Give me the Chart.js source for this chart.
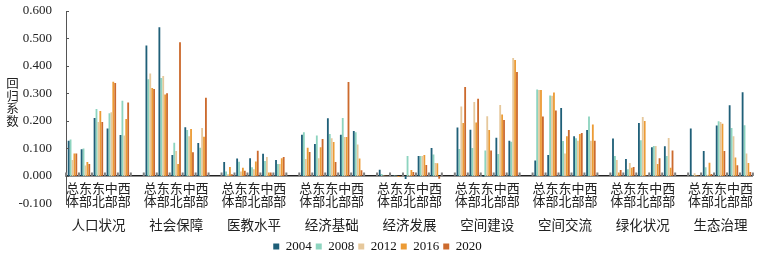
<!DOCTYPE html>
<html lang="zh">
<head>
<meta charset="utf-8">
<script src="https://cdn.jsdelivr.net/npm/chart.js@4.4.1/dist/chart.umd.min.js"></script>
<style>
  html, body { margin: 0; padding: 0; background: #fff; }
  #wrap { width: 761px; height: 258px; }
</style>
</head>
<body>
<div id="wrap"><canvas id="grafico"></canvas></div>
<script>
const grupos = ['人口状况', '社会保障', '医教水平', '经济基础', '经济发展', '空间建设', '空间交流', '绿化状况', '生态治理'];
const regiones = [['总', '体'], ['东', '部'], ['东', '北'], ['中', '部'], ['西', '部']];
const anios = ['2004', '2008', '2012', '2016', '2020'];
const colores = ['#1f5f78', '#8dd4bf', '#e6c89c', '#ec9b35', '#cc6a2d'];
const yTicks = [-0.1, 0, 0.1, 0.2, 0.3, 0.4, 0.5, 0.6];
const tituloY = '回归系数';

// orden por grupo: 总体, 东部, 东北, 中部, 西部
const v2004 = [
  0.128, 0.097, 0.211, 0.173, 0.149,
  0.475, 0.541, 0.076, 0.177, 0.120,
  0.051, 0.064, 0.065, 0.081, 0.058,
  0.150, 0.116, 0.210, 0.150, 0.164,
  0.023, 0.001, -0.011, 0.073, 0.102,
  0.176, 0.168, -0.003, 0.139, 0.128,
  0.056, 0.076, 0.247, 0.145, 0.167,
  0.136, 0.062, 0.193, 0.105, 0.108,
  0.173, 0.091, 0.184, 0.257, 0.305
];
const v2008 = [
  0.133, 0.100, 0.244, 0.228, 0.274,
  0.352, 0.356, 0.121, 0.167, 0.103,
  0.016, 0.052, 0.032, 0.055, 0.044,
  0.159, 0.147, 0.153, 0.211, 0.159,
  0.007, 0.002, 0.073, 0.073, 0.078,
  0.098, 0.102, 0.093, 0.080, 0.125,
  0.315, 0.293, 0.127, 0.137, 0.216,
  0.073, 0.025, 0.130, 0.109, 0.073,
  0.002, 0.032, 0.199, 0.175, 0.185
];
const v2012 = [
  0.058, 0.038, 0.196, 0.232, 0.147,
  0.373, 0.364, 0.091, 0.145, 0.175,
  0.006, 0.016, 0.025, 0.069, 0.044,
  0.062, 0.065, 0.137, 0.142, 0.115,
  0.002, 0.001, 0.004, 0.073, 0.047,
  0.253, 0.269, 0.217, 0.258, 0.429,
  0.313, 0.292, 0.082, 0.128, 0.128,
  0.058, 0.047, 0.215, 0.109, 0.138,
  0.010, 0.005, 0.196, 0.145, 0.082
];
const v2016 = [
  0.082, 0.051, 0.236, 0.343, 0.207,
  0.320, 0.296, 0.044, 0.171, 0.143,
  0.033, 0.030, 0.053, 0.013, 0.065,
  0.103, 0.105, 0.124, 0.142, 0.064,
  0.001, -0.004, 0.022, 0.076, 0.046,
  0.193, 0.195, 0.167, 0.224, 0.422,
  0.313, 0.304, 0.145, 0.153, 0.187,
  0.013, 0.030, 0.200, 0.044, 0.030,
  0.003, 0.048, 0.190, 0.067, 0.047
];
const v2020 = [
  0.082, 0.044, 0.196, 0.338, 0.267,
  0.316, 0.301, 0.486, 0.086, 0.285,
  0.006, 0.019, 0.092, 0.013, 0.069,
  0.087, 0.135, 0.051, 0.342, 0.021,
  0.001, -0.002, 0.015, 0.040, -0.010,
  0.324, 0.281, 0.093, 0.204, 0.378,
  0.216, 0.238, 0.167, 0.156, 0.128,
  0.022, 0.033, 0.002, 0.065, 0.093,
  0.002, 0.007, 0.091, 0.039, 0.015
];
const series = [v2004, v2008, v2012, v2016, v2020];

const fuente = "'Liberation Serif', 'Noto Sans CJK SC', serif";

// etiquetas del eje: 5 regiones por grupo + un hueco entre grupos
const etiquetas = [];
const etiquetasGrupo = [];
grupos.forEach((g, gi) => {
  regiones.forEach((r, ri) => {
    etiquetas.push(r);
    etiquetasGrupo.push(ri === 2 ? g : '');
  });
  if (gi < grupos.length - 1) {
    etiquetas.push('');
    etiquetasGrupo.push('');
  }
});

const expandir = (vals) => {
  const out = [];
  grupos.forEach((g, gi) => {
    out.push(...vals.slice(gi * 5, gi * 5 + 5));
    if (gi < grupos.length - 1) out.push(null);
  });
  return out;
};

const marcasEje = {
  id: 'marcasEje',
  afterDatasetsDraw(chart) {
    const { ctx, chartArea } = chart;
    const x = chart.scales.x;
    const y = chart.scales.y;
    const y0 = y.getPixelForValue(0);
    const paso = x.width / etiquetas.length;
    ctx.save();
    // marcas grises en cada limite de categoria
    ctx.fillStyle = '#7f7f7f';
    for (let i = 0; i <= etiquetas.length; i++) {
      const px = x.getPixelForValue(i) - paso / 2;
      ctx.fillRect(px - 1, y0 - 3.5, 2, 3.5);
    }
    // ticks hacia dentro en el eje Y
    ctx.strokeStyle = '#555';
    ctx.lineWidth = 1;
    yTicks.forEach((v) => {
      const py = Math.round(y.getPixelForValue(v)) + 0.5;
      ctx.beginPath();
      ctx.moveTo(chartArea.left, py);
      ctx.lineTo(chartArea.left + 3, py);
      ctx.stroke();
    });
    // titulo vertical del eje Y
    ctx.fillStyle = '#222';
    ctx.font = "12.5px 'Noto Sans CJK SC'";
    ctx.textAlign = 'center';
    ctx.textBaseline = 'middle';
    const chars = [...tituloY];
    const centro = (chartArea.top + chartArea.bottom) / 2 - 5;
    chars.forEach((c, i) => ctx.fillText(c, 12.5, centro + (i - (chars.length - 1) / 2) * 12.5));
    ctx.restore();
  }
};

new Chart(document.getElementById('grafico'), {
  type: 'bar',
  data: {
    labels: etiquetas,
    datasets: anios.map((a, i) => ({
      label: a,
      data: expandir(series[i]),
      backgroundColor: colores[i],
      borderWidth: 0,
      categoryPercentage: 0.74,
      barPercentage: 0.95
    }))
  },
  options: {
    responsive: true,
    maintainAspectRatio: false,
    animation: false,
    layout: { padding: { top: 11, right: 6, bottom: -5, left: 0 } },
    plugins: {
      tooltip: { enabled: false },
      legend: {
        position: 'bottom',
        labels: { boxWidth: 6, boxHeight: 6, padding: 4, color: '#111', font: { family: fuente, size: 13 } }
      }
    },
    scales: {
      x: {
        position: { y: 0 },
        offset: true,
        afterFit: (scale) => { scale.height = 0; },
        grid: { display: false, drawTicks: false },
        border: { display: true, color: '#222', width: 1.5 },
        ticks: { autoSkip: false, maxRotation: 0, padding: 6.5, color: '#222', font: { family: fuente, size: 13, lineHeight: 1.03 } }
      },
      x2: {
        type: 'category',
        labels: etiquetasGrupo,
        position: 'bottom',
        offset: true,
        afterFit: (scale) => { scale.height = 32.5; },
        grid: { display: false, drawTicks: false },
        border: { display: false },
        ticks: { autoSkip: false, maxRotation: 0, padding: 14.5, color: '#222', font: { family: fuente, size: 13.5, lineHeight: 1.2 } }
      },
      y: {
        min: -0.1,
        max: 0.6,
        afterFit: (scale) => {
          scale.width = 66;
          scale.paddingTop = 8;
          scale.paddingBottom = 8;
        },
        afterBuildTicks: (scale) => { scale.ticks = yTicks.map(v => ({ value: v })); },
        grid: { display: false, drawTicks: false },
        border: { display: true, color: '#555', width: 1 },
        ticks: { autoSkip: false, padding: 14, color: '#222', font: { family: fuente, size: 13 }, callback: (v) => v.toFixed(3) }
      }
    }
  },
  plugins: [marcasEje]
});
</script>
</body>
</html>
